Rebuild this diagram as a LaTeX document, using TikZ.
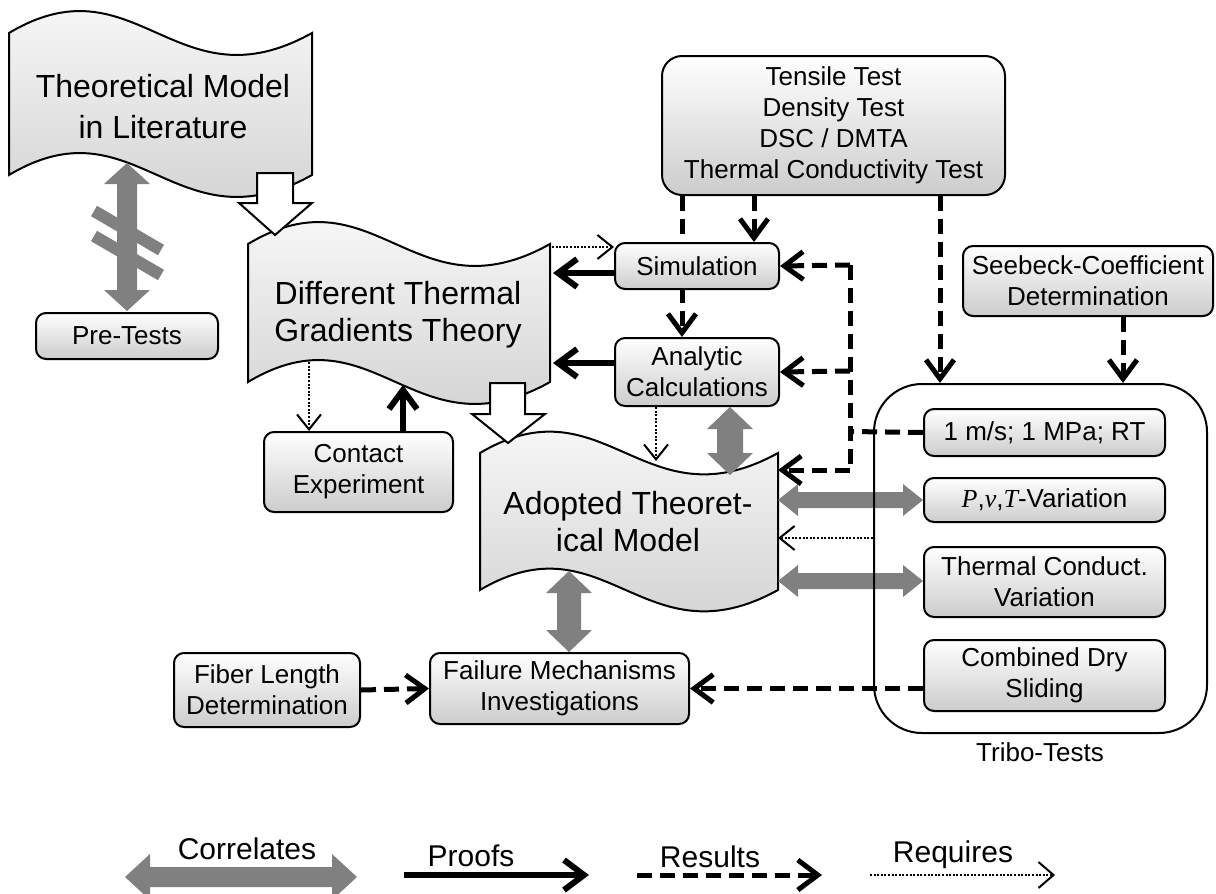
\documentclass[tikz,border=0pt]{standalone}
\usepackage{fontspec}
\setmainfont{Liberation Sans}
\newfontfamily\cambria{Liberation Serif}
\usetikzlibrary{arrows.meta,calc}
\pgfdeclarelayer{tapes}
\pgfdeclarelayer{links}
\pgfsetlayers{tapes,links,main}

\newcommand\tapeshape[5]{%
  \path[tapestyle] (#1,#3) .. controls ({#1+0.42*(#2-#1)},#3-#5) and ({#1+0.55*(#2-#1)},#3+#5) .. (#2,#3)
    -- (#2,#4) .. controls ({#1+0.55*(#2-#1)},#4+#5) and ({#1+0.42*(#2-#1)},#4-#5) .. (#1,#4) -- cycle;}

\newcommand\vcorr[5]{%
  \fill[corrfill] let \p1=#1, \p2=#2 in
   (\x1,\y1) -- (\x1+#4pt,\y1-#5pt) -- (\x1+#3pt,\y1-#5pt) -- (\x1+#3pt,\y2+#5pt) -- (\x1+#4pt,\y2+#5pt)
   -- (\x1,\y2) -- (\x1-#4pt,\y2+#5pt) -- (\x1-#3pt,\y2+#5pt) -- (\x1-#3pt,\y1-#5pt) -- (\x1-#4pt,\y1-#5pt) -- cycle;}

\newcommand\hcorr[5]{%
  \fill[corrfill] let \p1=#1, \p2=#2 in
   (\x1,\y1) -- (\x1+#5pt,\y1+#4pt) -- (\x1+#5pt,\y1+#3pt) -- (\x2-#5pt,\y1+#3pt) -- (\x2-#5pt,\y1+#4pt)
   -- (\x2,\y1) -- (\x2-#5pt,\y1-#4pt) -- (\x2-#5pt,\y1-#3pt) -- (\x1+#5pt,\y1-#3pt) -- (\x1+#5pt,\y1-#4pt) -- cycle;}

\begin{document}
\begin{tikzpicture}[x=1pt,y=-1pt,
  box/.style={draw, line width=2pt, rounded corners=10pt, top color=white, bottom color=black!20,
    align=center, inner sep=0pt, anchor=north west, font=\fontsize{26}{31}\selectfont},
  tapestyle/.style={draw, line width=2pt, top color=white, bottom color=black!20},
  bigtext/.style={align=center, font=\fontsize{32}{37}\selectfont},
  smalltext/.style={font=\fontsize{26}{31}\selectfont},
  legtext/.style={font=\fontsize{30}{36}\selectfont},
  res/.style={line width=5pt, dash pattern=on 15pt off 8pt},
  rtip/.style={-{Straight Barb[length=19pt,width=28pt]}},
  proof/.style={line width=6pt, -{Straight Barb[length=19pt,width=28pt]}},
  req/.style={line width=2pt, dash pattern=on 2pt off 1.6pt, -{Straight Barb[length=15pt,width=24pt]}},
  corrfill/.style={fill=black!50},
  corrbar/.style={draw=black!50, line width=12pt},
  blockarrow/.style={draw, fill=white, line width=2pt, line join=miter},
]
\useasboundingbox (0,0) rectangle (1216,894);

% ---------- tapes ----------
\begin{pgfonlayer}{tapes}
  \tapeshape{9}{312}{33}{175}{76}
  \tapeshape{248}{550}{244}{382}{76}
  \tapeshape{480}{778}{453}{590}{74}
\end{pgfonlayer}
\node[bigtext, font=\fontsize{32}{41}\selectfont] (lit) at (163,107) {Theoretical Model\\in Literature};
\node[bigtext] (diff) at (398,315) {Different Thermal\\Gradients Theory};
\node[bigtext] (adopt) at (628,522) {Adopted Theoret-\\ical Model};

% ---------- boxes ----------
\node[box, minimum width=182pt, minimum height=46pt] (pre) at (35,312) {Pre-Tests};
\node[box, minimum width=189pt, minimum height=80pt] (contact) at (263,431) {Contact\\Experiment};
\node[box, minimum width=164pt, minimum height=46pt] (sim) at (614,242) {Simulation};
\node[box, minimum width=164pt, minimum height=68pt] (ana) at (614,337) {Analytic\\Calculations};
\node[box, rounded corners=20pt, minimum width=343pt, minimum height=139pt] (tests) at (661,55)
  {Tensile Test\\Density Test\\DSC / DMTA\\Thermal Conductivity Test};
\node[box, minimum width=250pt, minimum height=70pt] (seebeck) at (962,245) {Seebeck-Coefficient\\Determination};
\node[draw, line width=2pt, rounded corners=48pt, minimum width=333pt, minimum height=349pt,
  anchor=north west, inner sep=0pt] (tribo) at (873,383) {};
\node[smalltext] (tribolab) at (1040,752) {Tribo-Tests};
\node[box, minimum width=241pt, minimum height=47pt] (one) at (923,408) {1 m/s; 1 MPa; RT};
\node[box, minimum width=241pt, minimum height=44pt] (pvt) at (923,477) {{\cambria\itshape P},{\cambria\itshape v},{\cambria\itshape T}-Variation};
\node[box, minimum width=241pt, minimum height=70pt] (tcv) at (923,546) {Thermal Conduct.\\Variation};
\node[box, minimum width=241pt, minimum height=71pt] (cds) at (923,639) {Combined Dry\\Sliding};
\node[box, minimum width=186pt, minimum height=74pt] (fiber) at (173,652) {Fiber Length\\Determination};
\node[box, minimum width=259pt, minimum height=71pt] (failure) at (429,652) {Failure Mechanisms\\Investigations};

% ---------- named points on tape edges / free ends ----------
\coordinate (litB)  at (127,163);
\coordinate (diffR1) at (553,273);
\coordinate (diffR2) at (553,363);
\coordinate (diffR0) at (552,247);
\coordinate (diffB1) at (309,362);
\coordinate (diffB2) at (403,385);
\coordinate (adoT1) at (656,461);
\coordinate (adoT2) at (729,475);
\coordinate (adoB)  at (569,571);
\coordinate (adoR0) at (778,470);
\coordinate (adoR1) at (778,500);
\coordinate (adoR2) at (778,538);
\coordinate (adoR3) at (778,581);
\coordinate (Jt) at (850,265);
\coordinate (Jm) at (850,371);
\coordinate (Jo) at (850,431.5);
\coordinate (Jb) at (850,470);

\begin{pgfonlayer}{links}
  % white block arrows
  \path[blockarrow] (257,173) -- (293,173) -- (293,203) -- (312,203) -- (275,235) -- (239,203) -- (257,203) -- cycle;
  \path[blockarrow] (490,383) -- (525,383) -- (525,414) -- (545,414) -- (508,443) -- (472,414) -- (490,414) -- cycle;

  % correlates
  \vcorr{(litB)}{(127,311)}{10}{23}{21}
  \draw[corrbar] (94,211) -- (161,250);
  \draw[corrbar] (94,236) -- (161,275);
  \vcorr{($(ana.south)+(33,0)$)}{(adoT2)}{13}{23}{22}
  \vcorr{(adoB)}{($(failure.north)+(10,0)$)}{12}{23}{22}
  \hcorr{(adoR1)}{(pvt.west)}{8}{16}{20}
  \hcorr{(adoR3)}{(tcv.west)}{8}{16}{20}

  % results
  \draw[res, rtip] ($(tests.south west)+(21,0)$) -- ($(ana.north west)+(68,0)$);
  \draw[res, rtip] ($(tests.south west)+(93,0)$) -- ($(sim.north west)+(140,0)$);
  \draw[res, rtip] ($(tests.south west)+(279,0)$) -- ($(tribo.north west)+(67,0)$);
  \draw[res, rtip] ($(seebeck.south west)+(161,0)$) -- ($(tribo.north west)+(250,0)$);
  \draw[res] (one.west) -- (Jo);
  \draw[res] (Jt) -- (Jb);
  \draw[res, rtip] (Jt) -- (sim.east);
  \draw[res, rtip] (Jm) -- (ana.east);
  \draw[res, rtip] (Jb) -- (adoR0);
  \draw[res, rtip] (fiber.east) -- (failure.west);
  \draw[res, rtip] (cds.west |- failure.east) -- (failure.east);

  % proofs
  \draw[proof] (sim.west |- diffR1) -- (diffR1);
  \draw[proof] (ana.west |- diffR2) -- (diffR2);
  \draw[proof] (contact.north -| diffB2) -- (diffB2);

  % requires
  \draw[req] (diffR0) -- (sim.west |- diffR0);
  \draw[req] (diffB1) -- (contact.north -| diffB1);
  \draw[req] (ana.south -| adoT1) -- (adoT1);
  \draw[req] (tribo.west |- adoR2) -- (adoR2);
\end{pgfonlayer}

% ---------- legend ----------
\node[legtext] (lcor) at (247,849) {Correlates};
\node[legtext] (lpro) at (471,856) {Proofs};
\node[legtext] (lres) at (710,857) {Results};
\node[legtext] (lreq) at (953,855) {Requires};
\coordinate (c1) at (125,877);
\coordinate (c2) at (357,877);
\coordinate (p1) at (404,875);
\coordinate (p2) at (589,875);
\coordinate (r1) at (637,875);
\coordinate (r2) at (822,875);
\coordinate (q1) at (870,875);
\coordinate (q2) at (1055,875);
\hcorr{(c1)}{(c2)}{10}{23}{25}
\draw[line width=6pt, -{Straight Barb[length=20pt,width=30pt]}] (p1) -- (p2);
\draw[res, -{Straight Barb[length=20pt,width=30pt]}] (r1) -- (r2);
\draw[req, -{Straight Barb[length=15pt,width=26pt]}] (q1) -- (q2);
\end{tikzpicture}
\end{document}
